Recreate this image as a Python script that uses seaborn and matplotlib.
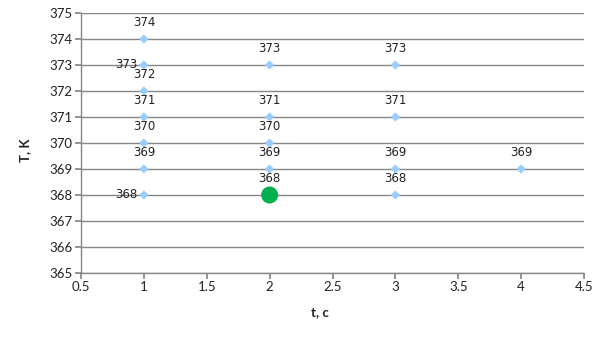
import matplotlib
matplotlib.use("Agg")
import matplotlib.pyplot as plt
import seaborn as sns
import pandas as pd

sns.set_theme(style="white")
plt.rcParams['font.family'] = ['Lato', 'DejaVu Sans']

t_vals = [1, 1, 1, 1, 1, 1, 1, 2, 2, 2, 2, 2, 3, 3, 3, 3, 4]
T_vals = [374, 373, 372, 371, 370, 369, 368, 373, 371, 370, 369, 368, 373, 371, 369, 368, 369]
label_pos = ['above', 'left', 'above', 'above', 'above', 'above', 'left',
             'above', 'above', 'above', 'above', 'above',
             'above', 'above', 'above', 'above', 'above']
hl_t = [2]
hl_T = [368]

df = pd.DataFrame({'t': t_vals, 'T': T_vals})
dh = pd.DataFrame({'t': hl_t, 'T': hl_T})

fig = plt.figure(figsize=(6.05, 3.40), dpi=100)
ax = fig.add_axes([81/605, 1 - 273/340, (584-81)/605, (273-13)/340])

sns.scatterplot(data=df, x='t', y='T', ax=ax, marker='D', s=22,
                color='#99CCFF', edgecolor='none', zorder=3, legend=False)
sns.scatterplot(data=dh, x='t', y='T', ax=ax, marker='o', s=150,
                color='#00B050', edgecolor='none', zorder=4, legend=False)

for x, y, p in zip(t_vals, T_vals, label_pos):
    if p == 'above':
        ax.annotate(str(y), (x, y), xytext=(0, 7.5), textcoords='offset points',
                    ha='center', va='bottom', fontsize=8.5, color='#222222',
                    family=['DejaVu Sans'])
    else:
        ax.annotate(str(y), (x, y), xytext=(-5, 0), textcoords='offset points',
                    ha='right', va='center', fontsize=8.5, color='#222222',
                    family=['DejaVu Sans'])

ax.set_xlim(0.5, 4.5)
ax.set_ylim(365, 375)
ax.set_xticks([0.5, 1, 1.5, 2, 2.5, 3, 3.5, 4, 4.5])
ax.set_xticklabels(['0.5', '1', '1.5', '2', '2.5', '3', '3.5', '4', '4.5'])
ax.set_yticks(range(365, 376))
ax.yaxis.grid(True, color='#868686', linewidth=1)
ax.xaxis.grid(False)
ax.set_axisbelow(True)
for s in ['top', 'right']:
    ax.spines[s].set_visible(False)
for s in ['left', 'bottom']:
    ax.spines[s].set_color('#868686')
    ax.spines[s].set_linewidth(1)
ax.tick_params(axis='both', which='both', direction='out', length=4,
               color='#868686', labelsize=9.5, labelcolor='#222222', pad=2,
               left=True, bottom=True)
ax.set_xlabel('t, c', fontsize=9.5, fontweight='bold', color='#222222')
ax.set_ylabel('T, K', fontsize=9.5, fontweight='bold', color='#222222')
ax.xaxis.set_label_coords((320-81)/(584-81), -(306-273)/260)
ax.yaxis.set_label_coords(-(81-31)/(584-81), (273-150)/260)

fig.savefig('out.png', dpi=100)
